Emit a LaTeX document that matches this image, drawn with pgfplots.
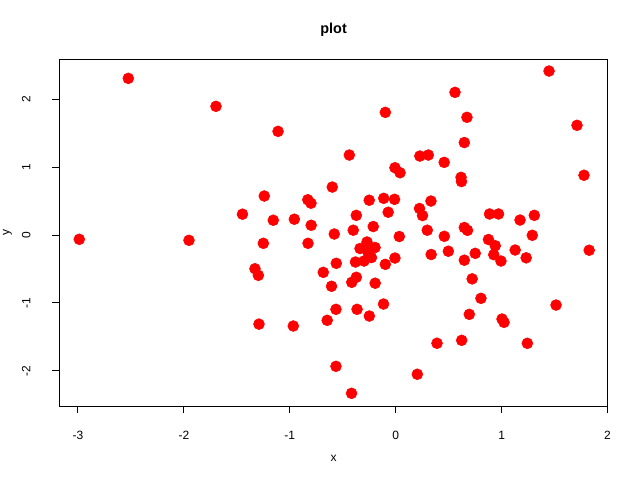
\documentclass[border=0pt]{standalone}
\usepackage{fontspec}
\setmainfont{Liberation Sans}
\usepackage{pgfplots}
\pgfplotsset{compat=1.18}
\begin{document}
\begin{tikzpicture}
\path[use as bounding box] (0,0) rectangle (480pt,360pt);
\begin{axis}[
  at={(44.4pt,55.5pt)}, anchor=south west,
  scale only axis, width=411.6pt, height=260pt,
  xmin=-3.1775, xmax=2.0047, ymin=-2.520, ymax=2.5896,
  axis line style={line width=0.75pt},
  every tick/.style={black, line width=0.75pt},
  tick align=outside, major tick length=5.4pt,
  xtick pos=lower, ytick pos=left,
  xtick={-3,-2,-1,0,1,2}, ytick={-2,-1,0,1,2},
  minor tick num=0,
  /pgf/number format/assume math mode=true,
  tick label style={font=\fontsize{9}{10}\selectfont},
  xticklabel style={anchor=center, yshift=-16.5pt},
  yticklabel style={xshift=-19.3pt, anchor=center, rotate=90},
  title={plot},
  every axis title/.style={at={(rel axis cs:0.5,1.0846)}, anchor=center, font=\bfseries\fontsize{10.8}{12}\selectfont},
  xlabel={x}, ylabel={y},
  every axis x label/.style={at={(rel axis cs:0.5,-0.15)}, anchor=center, font=\fontsize{9}{10}\selectfont},
  every axis y label/.style={at={(rel axis cs:-0.0943,0.5)}, anchor=center, rotate=90, font=\fontsize{9}{10}\selectfont},
  clip=false,
]
\addplot[only marks, mark=*, mark size=4.1pt, color=red, mark options={draw=red, fill=red}] coordinates {
(-2.988,-0.063) (-2.525,2.309) (-1.952,-0.078) (-1.697,1.897) (-1.447,0.307)
(-1.329,-0.497) (-1.297,-0.594) (-1.291,-1.313) (-1.250,-0.122) (-1.241,0.575)
(-1.156,0.218) (-1.111,1.528) (-0.967,-1.341) (-0.957,0.233) (-0.828,-0.122)
(-0.830,0.520) (-0.800,0.469) (-0.798,0.144) (-0.684,-0.550) (-0.647,-1.257)
(-0.606,-0.755) (-0.599,0.707) (-0.580,0.015) (-0.561,-0.417) (-0.564,-1.095)
(-0.564,-1.935) (-0.417,-2.333) (-0.438,1.179) (-0.401,0.071) (-0.415,-0.697)
(-0.372,-0.623) (-0.372,0.290) (-0.365,-1.095) (-0.380,-0.398) (-0.299,-0.383)
(-0.337,-0.199) (-0.271,-0.103) (-0.195,-0.184) (-0.229,-0.332) (-0.262,-0.251)
(-0.249,-1.194) (-0.250,0.513) (-0.212,0.125) (-0.194,-0.710) (-0.115,-1.017)
(-0.098,-0.432) (-0.098,1.808) (-0.113,0.541) (-0.071,0.336) (-0.007,-0.339)
(-0.011,0.526) (-0.007,0.992) (0.041,0.918) (0.034,-0.022) (0.204,-2.052)
(0.225,0.391) (0.253,0.287) (0.228,1.164) (0.308,1.179) (0.298,0.071)
(0.333,0.501) (0.335,-0.287) (0.390,-1.595) (0.458,1.071) (0.459,-0.019)
(0.497,-0.239) (0.560,2.103) (0.617,0.850) (0.621,0.788) (0.623,-1.552)
(0.648,1.363) (0.648,0.111) (0.678,0.069) (0.648,-0.371) (0.673,1.735)
(0.695,-1.169) (0.722,-0.646) (0.751,-0.270) (0.805,-0.933) (0.876,-0.066)
(0.886,0.310) (0.940,-0.158) (0.926,-0.290) (0.971,0.310) (0.994,-0.383)
(1.004,-1.238) (1.023,-1.287) (1.128,-0.221) (1.174,0.221) (1.232,-0.336)
(1.243,-1.596) (1.290,-0.004) (1.309,0.290) (1.448,2.417) (1.514,-1.032)
(1.712,1.617) (1.778,0.881) (1.827,-0.224)
};
\end{axis}
\end{tikzpicture}
\end{document}
